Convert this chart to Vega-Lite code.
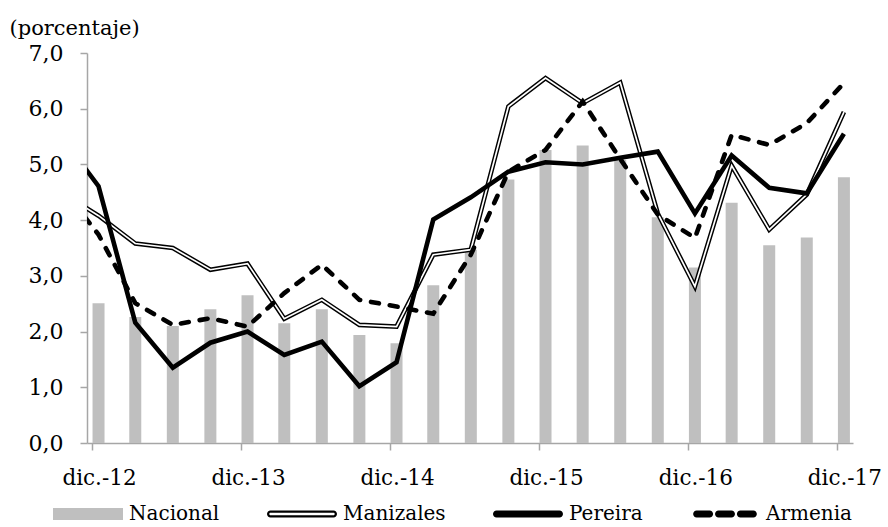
{
  "$schema": "https://vega.github.io/schema/vega-lite/v6.json",
  "autosize": {"type": "none"},
  "width": 766,
  "height": 390,
  "padding": {"left": 87, "top": 53, "right": 35, "bottom": 84},
  "background": "white",
  "config": {
    "font": "DejaVu Serif",
    "view": {"stroke": null},
    "axis": {"grid": false}
  },
  "data": {
    "values": [
      {"fecha": "2012-09-17", "serie": "Manizales", "valor": 4.5},
      {"fecha": "2012-09-17", "serie": "Pereira", "valor": 5.5},
      {"fecha": "2012-09-17", "serie": "Armenia", "valor": 4.6},
      {"fecha": "2012-12-17", "serie": "Nacional", "valor": 2.51},
      {"fecha": "2013-03-17", "serie": "Nacional", "valor": 2.26},
      {"fecha": "2013-06-17", "serie": "Nacional", "valor": 2.1},
      {"fecha": "2013-09-17", "serie": "Nacional", "valor": 2.4},
      {"fecha": "2013-12-17", "serie": "Nacional", "valor": 2.65},
      {"fecha": "2014-03-17", "serie": "Nacional", "valor": 2.15},
      {"fecha": "2014-06-17", "serie": "Nacional", "valor": 2.4},
      {"fecha": "2014-09-17", "serie": "Nacional", "valor": 1.94},
      {"fecha": "2014-12-17", "serie": "Nacional", "valor": 1.79},
      {"fecha": "2015-03-17", "serie": "Nacional", "valor": 2.83},
      {"fecha": "2015-06-17", "serie": "Nacional", "valor": 3.47},
      {"fecha": "2015-09-17", "serie": "Nacional", "valor": 4.73},
      {"fecha": "2015-12-17", "serie": "Nacional", "valor": 5.26},
      {"fecha": "2016-03-17", "serie": "Nacional", "valor": 5.34},
      {"fecha": "2016-06-17", "serie": "Nacional", "valor": 5.08},
      {"fecha": "2016-09-17", "serie": "Nacional", "valor": 4.05},
      {"fecha": "2016-12-17", "serie": "Nacional", "valor": 3.15},
      {"fecha": "2017-03-17", "serie": "Nacional", "valor": 4.31},
      {"fecha": "2017-06-17", "serie": "Nacional", "valor": 3.55},
      {"fecha": "2017-09-17", "serie": "Nacional", "valor": 3.69},
      {"fecha": "2017-12-17", "serie": "Nacional", "valor": 4.77},
      {"fecha": "2012-12-17", "serie": "Manizales", "valor": 4.08},
      {"fecha": "2013-03-17", "serie": "Manizales", "valor": 3.58},
      {"fecha": "2013-06-17", "serie": "Manizales", "valor": 3.5},
      {"fecha": "2013-09-17", "serie": "Manizales", "valor": 3.11},
      {"fecha": "2013-12-17", "serie": "Manizales", "valor": 3.22},
      {"fecha": "2014-03-17", "serie": "Manizales", "valor": 2.23},
      {"fecha": "2014-06-17", "serie": "Manizales", "valor": 2.57},
      {"fecha": "2014-09-17", "serie": "Manizales", "valor": 2.12},
      {"fecha": "2014-12-17", "serie": "Manizales", "valor": 2.09},
      {"fecha": "2015-03-17", "serie": "Manizales", "valor": 3.38},
      {"fecha": "2015-06-17", "serie": "Manizales", "valor": 3.47},
      {"fecha": "2015-09-17", "serie": "Manizales", "valor": 6.04},
      {"fecha": "2015-12-17", "serie": "Manizales", "valor": 6.55},
      {"fecha": "2016-03-17", "serie": "Manizales", "valor": 6.1},
      {"fecha": "2016-06-17", "serie": "Manizales", "valor": 6.47},
      {"fecha": "2016-09-17", "serie": "Manizales", "valor": 4.12},
      {"fecha": "2016-12-17", "serie": "Manizales", "valor": 2.81},
      {"fecha": "2017-03-17", "serie": "Manizales", "valor": 4.98},
      {"fecha": "2017-06-17", "serie": "Manizales", "valor": 3.83},
      {"fecha": "2017-09-17", "serie": "Manizales", "valor": 4.46},
      {"fecha": "2017-12-17", "serie": "Manizales", "valor": 5.94},
      {"fecha": "2012-12-17", "serie": "Pereira", "valor": 4.61},
      {"fecha": "2013-03-17", "serie": "Pereira", "valor": 2.16},
      {"fecha": "2013-06-17", "serie": "Pereira", "valor": 1.35},
      {"fecha": "2013-09-17", "serie": "Pereira", "valor": 1.8},
      {"fecha": "2013-12-17", "serie": "Pereira", "valor": 2.0},
      {"fecha": "2014-03-17", "serie": "Pereira", "valor": 1.58},
      {"fecha": "2014-06-17", "serie": "Pereira", "valor": 1.82},
      {"fecha": "2014-09-17", "serie": "Pereira", "valor": 1.02},
      {"fecha": "2014-12-17", "serie": "Pereira", "valor": 1.45},
      {"fecha": "2015-03-17", "serie": "Pereira", "valor": 4.01},
      {"fecha": "2015-06-17", "serie": "Pereira", "valor": 4.41},
      {"fecha": "2015-09-17", "serie": "Pereira", "valor": 4.87},
      {"fecha": "2015-12-17", "serie": "Pereira", "valor": 5.04},
      {"fecha": "2016-03-17", "serie": "Pereira", "valor": 5.0},
      {"fecha": "2016-06-17", "serie": "Pereira", "valor": 5.12},
      {"fecha": "2016-09-17", "serie": "Pereira", "valor": 5.23},
      {"fecha": "2016-12-17", "serie": "Pereira", "valor": 4.12},
      {"fecha": "2017-03-17", "serie": "Pereira", "valor": 5.16},
      {"fecha": "2017-06-17", "serie": "Pereira", "valor": 4.58},
      {"fecha": "2017-09-17", "serie": "Pereira", "valor": 4.48},
      {"fecha": "2017-12-17", "serie": "Pereira", "valor": 5.55},
      {"fecha": "2012-12-17", "serie": "Armenia", "valor": 3.74},
      {"fecha": "2013-03-17", "serie": "Armenia", "valor": 2.51},
      {"fecha": "2013-06-17", "serie": "Armenia", "valor": 2.12},
      {"fecha": "2013-09-17", "serie": "Armenia", "valor": 2.24},
      {"fecha": "2013-12-17", "serie": "Armenia", "valor": 2.09},
      {"fecha": "2014-03-17", "serie": "Armenia", "valor": 2.69},
      {"fecha": "2014-06-17", "serie": "Armenia", "valor": 3.2},
      {"fecha": "2014-09-17", "serie": "Armenia", "valor": 2.57},
      {"fecha": "2014-12-17", "serie": "Armenia", "valor": 2.45},
      {"fecha": "2015-03-17", "serie": "Armenia", "valor": 2.32},
      {"fecha": "2015-06-17", "serie": "Armenia", "valor": 3.38},
      {"fecha": "2015-09-17", "serie": "Armenia", "valor": 4.87},
      {"fecha": "2015-12-17", "serie": "Armenia", "valor": 5.26},
      {"fecha": "2016-03-17", "serie": "Armenia", "valor": 6.13},
      {"fecha": "2016-06-17", "serie": "Armenia", "valor": 5.1},
      {"fecha": "2016-09-17", "serie": "Armenia", "valor": 4.1},
      {"fecha": "2016-12-17", "serie": "Armenia", "valor": 3.68},
      {"fecha": "2017-03-17", "serie": "Armenia", "valor": 5.53},
      {"fecha": "2017-06-17", "serie": "Armenia", "valor": 5.35},
      {"fecha": "2017-09-17", "serie": "Armenia", "valor": 5.74},
      {"fecha": "2017-12-17", "serie": "Armenia", "valor": 6.46}
    ],
    "format": {"parse": {"fecha": "date"}}
  },
  "encoding": {
    "x": {
      "field": "fecha",
      "type": "temporal",
      "scale": {
        "type": "utc",
        "domain": [
          {"year": 2012, "month": 12, "date": 1, "utc": true},
          {"year": 2017, "month": 12, "date": 27, "utc": true}
        ]
      },
      "axis": {
        "title": null,
        "values": [
          {"year": 2012, "month": 12, "date": 1, "utc": true},
          {"year": 2013, "month": 12, "date": 1, "utc": true},
          {"year": 2014, "month": 12, "date": 1, "utc": true},
          {"year": 2015, "month": 12, "date": 1, "utc": true},
          {"year": 2016, "month": 12, "date": 1, "utc": true},
          {"year": 2017, "month": 12, "date": 1, "utc": true}
        ],
        "labelExpr": "'dic.-' + utcFormat(datum.value, '%y')",
        "labelFont": "DejaVu Serif",
        "labelFontSize": 21.5,
        "labelColor": "black",
        "labelPadding": 17,
        "labelOffset": 7,
        "labelFlush": false,
        "labelOverlap": false,
        "labelBound": false,
        "tickSize": 7,
        "tickColor": "#A6A6A6",
        "tickWidth": 1.5,
        "domainColor": "#A6A6A6",
        "domainWidth": 1.5
      }
    },
    "y": {
      "field": "valor",
      "type": "quantitative",
      "scale": {"domain": [0, 7], "nice": false, "zero": true},
      "axis": {
        "title": "(porcentaje)",
        "titleAngle": 0,
        "titleAlign": "left",
        "titleBaseline": "alphabetic",
        "titleX": -78,
        "titleY": -19,
        "titleFont": "DejaVu Serif",
        "titleFontSize": 21,
        "titleFontWeight": "normal",
        "titleColor": "black",
        "values": [0, 1, 2, 3, 4, 5, 6, 7],
        "labelExpr": "replace(format(datum.value, '.1f'), '.', ',')",
        "labelFont": "DejaVu Serif",
        "labelFontSize": 22,
        "labelColor": "black",
        "labelPadding": 17,
        "tickSize": 7,
        "tickColor": "#A6A6A6",
        "tickWidth": 1.5,
        "domainColor": "#A6A6A6",
        "domainWidth": 1.5
      }
    }
  },
  "layer": [
    {
      "transform": [{"filter": "datum.serie === 'Nacional'"}],
      "mark": {"type": "bar", "color": "#BFBFBF", "size": 12}
    },
    {
      "transform": [{"filter": "datum.serie === 'Manizales'"}],
      "mark": {"type": "line", "color": "black", "strokeWidth": 4.6, "clip": true}
    },
    {
      "transform": [{"filter": "datum.serie === 'Manizales'"}],
      "mark": {"type": "line", "color": "white", "strokeWidth": 1.7, "clip": true}
    },
    {
      "transform": [{"filter": "datum.serie === 'Pereira'"}],
      "mark": {"type": "line", "color": "black", "strokeWidth": 4.6, "clip": true}
    },
    {
      "transform": [{"filter": "datum.serie === 'Armenia'"}],
      "mark": {"type": "line", "color": "black", "strokeWidth": 4.6, "strokeDash": [8, 11], "strokeCap": "round", "clip": true}
    },
    {
      "mark": {"type": "point", "filled": true, "opacity": 0},
      "encoding": {
        "color": {
          "field": "serie",
          "type": "nominal",
          "scale": {"domain": ["Nacional", "Manizales", "Pereira", "Armenia"], "range": ["#BFBFBF", "black", "black", "black"]},
          "legend": {
            "title": null,
            "orient": "none",
            "legendX": -34,
            "legendY": 426,
            "direction": "horizontal",
            "padding": 0,
            "columnPadding": 47,
            "labelOffset": 6,
            "symbolSize": 4900,
            "symbolStrokeWidth": 0,
            "symbolOpacity": 1,
            "labelFont": "DejaVu Serif",
            "labelFontSize": 20,
            "labelColor": "black",
            "labelLimit": 300
          }
        },
        "shape": {
          "field": "serie",
          "type": "nominal",
          "scale": {
            "domain": ["Nacional", "Manizales", "Pereira", "Armenia"],
            "range": [
              "M-1,-0.17H1V0.17H-1Z",
              "M-0.9,-0.1H0.9A0.1,0.1 0 0 1 0.9,0.1H-0.9A0.1,0.1 0 0 1 -0.9,-0.1Z M-0.9,-0.035A0.035,0.035 0 0 0 -0.9,0.035H0.9A0.035,0.035 0 0 0 0.9,-0.035Z",
              "M-0.9,-0.1H0.9A0.1,0.1 0 0 1 0.9,0.1H-0.9A0.1,0.1 0 0 1 -0.9,-0.1Z",
              "M-0.81,-0.1H-0.44A0.1,0.1 0 0 1 -0.44,0.1H-0.81A0.1,0.1 0 0 1 -0.81,-0.1Z M-0.185,-0.1H0.185A0.1,0.1 0 0 1 0.185,0.1H-0.185A0.1,0.1 0 0 1 -0.185,-0.1Z M0.44,-0.1H0.81A0.1,0.1 0 0 1 0.81,0.1H0.44A0.1,0.1 0 0 1 0.44,-0.1Z"
            ]
          },
          "legend": {
            "title": null,
            "orient": "none",
            "legendX": -34,
            "legendY": 426,
            "direction": "horizontal",
            "padding": 0,
            "columnPadding": 47,
            "labelOffset": 6,
            "symbolSize": 4900,
            "symbolStrokeWidth": 0,
            "symbolOpacity": 1,
            "labelFont": "DejaVu Serif",
            "labelFontSize": 20,
            "labelColor": "black",
            "labelLimit": 300
          }
        }
      }
    }
  ]
}
